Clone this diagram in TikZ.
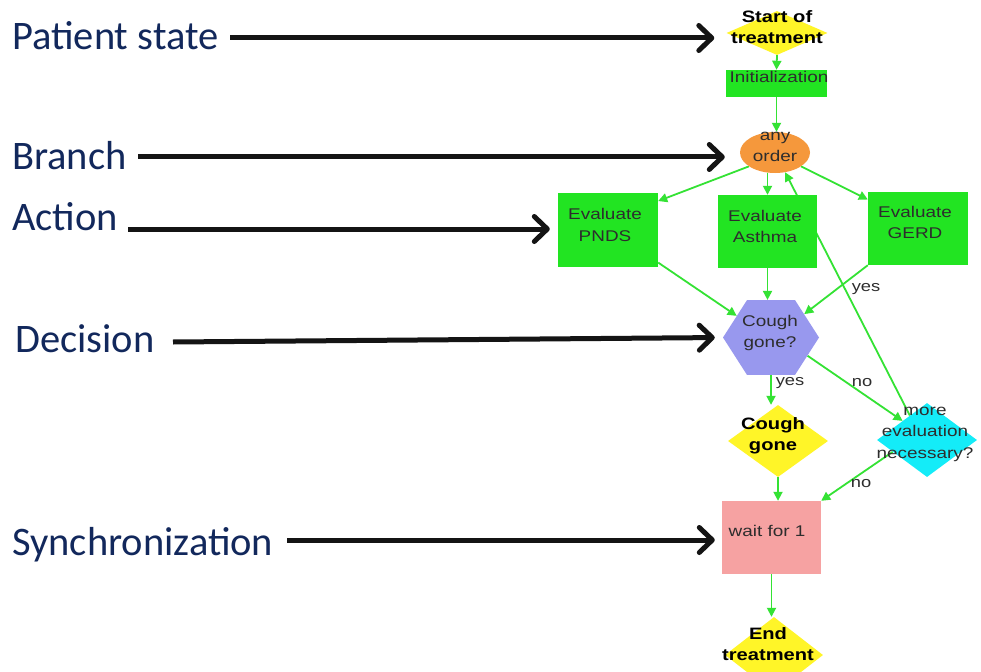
\documentclass[tikz,border=0pt]{standalone}
\usepackage{fontspec}
\newfontfamily\lblfont{Carlito}
\newfontfamily\chartfont[FakeStretch=1.22]{Liberation Sans}
\usetikzlibrary{arrows.meta,shapes.geometric}
\pgfdeclarelayer{paper}
\pgfdeclarelayer{edges}
\pgfsetlayers{paper,edges,main}

\definecolor{navy}{RGB}{18,40,92}
\definecolor{stateyellow}{RGB}{255,245,40}
\definecolor{actgreen}{RGB}{34,228,34}
\definecolor{branchorange}{RGB}{245,152,60}
\definecolor{decpurple}{RGB}{152,152,238}
\definecolor{deccyan}{RGB}{20,236,248}
\definecolor{syncpink}{RGB}{246,162,162}
\definecolor{flowgreen}{RGB}{52,226,52}
\definecolor{chartink}{RGB}{45,45,45}

\begin{document}
\begin{tikzpicture}[x=1pt,y=-1pt,
  kind/.style={font=\lblfont\fontsize{40.5}{44}\selectfont, text=navy, inner sep=0pt, anchor=base west},
  pointer/.style={line width=5pt, black!92, -{Straight Barb[length=13pt,width=25pt,round]}},
  box/.style={draw=none, inner sep=0pt, fill=actgreen, minimum width=#1, minimum height=73pt},
  statedia/.style={diamond, draw=none, inner sep=0pt, fill=stateyellow},
  ctext/.style={font=\chartfont\fontsize{15.5}{21.5}\selectfont, text=chartink, align=center, inner sep=0pt},
  btext/.style={font=\chartfont\bfseries\fontsize{16.5}{21}\selectfont, text=black, align=center, inner sep=0pt},
  elabel/.style={font=\chartfont\fontsize{15}{18}\selectfont, text=chartink, inner sep=0pt},
  flow/.style={draw=flowgreen, line width=1.8pt, -{Triangle[length=9pt,width=9pt]}}
]
\useasboundingbox (0,0) rectangle (981,671);
\begin{pgfonlayer}{paper}
\fill[white] (0,0) rectangle (981,671);
\end{pgfonlayer}

% kinds of elements, listed on the left
\node[kind] (lPatient) at (12,50) {Patient state};
\node[kind] (lBranch) at (12,170) {Branch};
\node[kind] (lAction) at (12,230) {Action};
\node[kind] (lDecision) at (15,352) {Decision};
\node[kind] (lSync) at (12,555) {Synchronization};

% flowchart shapes
\node[statedia, minimum width=101pt, minimum height=44pt] (start) at (777,33) {};
\node[box=101pt, minimum height=27pt] (init) at (776.5,83.5) {};
\node[ellipse, draw=none, inner sep=0pt, fill=branchorange, minimum width=70pt, minimum height=41pt] (any) at (775,152.5) {};
\node[box=100pt, minimum height=74pt] (pnds) at (608,230) {};
\node[box=99pt] (asthma) at (767.5,231.5) {};
\node[box=100pt] (gerd) at (918,228.5) {};
\node[regular polygon, regular polygon sides=6, draw=none, inner sep=0pt, fill=decpurple,
      minimum size=96pt, transform shape, yscale=0.9] (hex) at (771,337.5) {};
\node[statedia, minimum width=100pt, minimum height=72pt] (cg) at (778,441) {};
\node[diamond, draw=none, inner sep=0pt, fill=deccyan, minimum width=100pt, minimum height=74pt] (more) at (927,440) {};
\node[draw=none, inner sep=0pt, fill=syncpink, minimum width=99pt, minimum height=73pt] (wait) at (771.5,537.5) {};
\node[statedia, minimum width=98pt, minimum height=76pt] (endd) at (774,655) {};

% texts of the shapes
\node[btext] (startT) at (777,27) {Start of\\treatment};
\node[ctext] (initT) at (779,77) {Initialization};
\node[ctext] (anyT) at (775,147) {any\\order};
\node[ctext] (pndsT) at (605,225) {Evaluate\\PNDS};
\node[ctext] (asthmaT) at (765,226.5) {Evaluate\\Asthma};
\node[ctext] (gerdT) at (915,222.5) {Evaluate\\GERD};
\node[ctext] (hexT) at (770,333) {Cough\\gone?};
\node[btext] (cgT) at (773,436) {Cough\\gone};
\node[ctext] (moreT) at (925,434) {more\\evaluation\\necessary?};
\node[ctext] (waitT) at (767,531) {wait for 1};
\node[btext] (enddT) at (768,644) {End\\treatment};

% edge labels
\node[elabel] (yes1) at (866,289) {yes};
\node[elabel] (yes2) at (790,383) {yes};
\node[elabel] (no1) at (862,383) {no};
\node[elabel] (no2) at (861,484) {no};

% connectors of the flowchart, kept under the shapes
\begin{pgfonlayer}{edges}
\draw[flow] (start.south) -- (init.north);
\draw[flow] (init.south) -- (init.south |- any.north);
\draw[flow] (any.208) -- (pnds.30);
\draw[flow] (asthma.north |- any.south) -- (asthma.north);
\draw[flow] (any.332) -- (gerd.150);
\draw[flow] (more.125) -- (any);
\draw[flow] (pnds.-33) -- (hex.145);
\draw[flow] (asthma.south) -- (asthma.south |- hex.north);
\draw[flow] (gerd.south west) -- (hex.38);
\draw[flow] (hex.south) -- (hex.south |- cg.north);
\draw[flow] (hex.-29) -- (more.142);
\draw[flow] (more.199) -- (wait.north east);
\draw[flow] (cg.south) -- (cg.south |- wait.north);
\draw[flow] (wait.south) -- (wait.south |- endd.north);
\end{pgfonlayer}

% pointers from the kinds to their examples
\coordinate (pA) at (230,38);
\coordinate (bA) at (138,157);
\coordinate (aA) at (128,229);
\coordinate (dA) at (173,342);
\coordinate (sA) at (287,540);
\draw[pointer, shorten >=12pt] (pA) -- (pA -| start.west);
\draw[pointer, shorten >=15pt] (bA) -- (bA -| any.west);
\draw[pointer, shorten >=8pt] (aA) -- (aA -| pnds.west);
\draw[pointer, shorten >=8pt] (dA) -- (hex.west);
\draw[pointer, shorten >=7pt] (sA) -- (sA -| wait.west);
\end{tikzpicture}
\end{document}
